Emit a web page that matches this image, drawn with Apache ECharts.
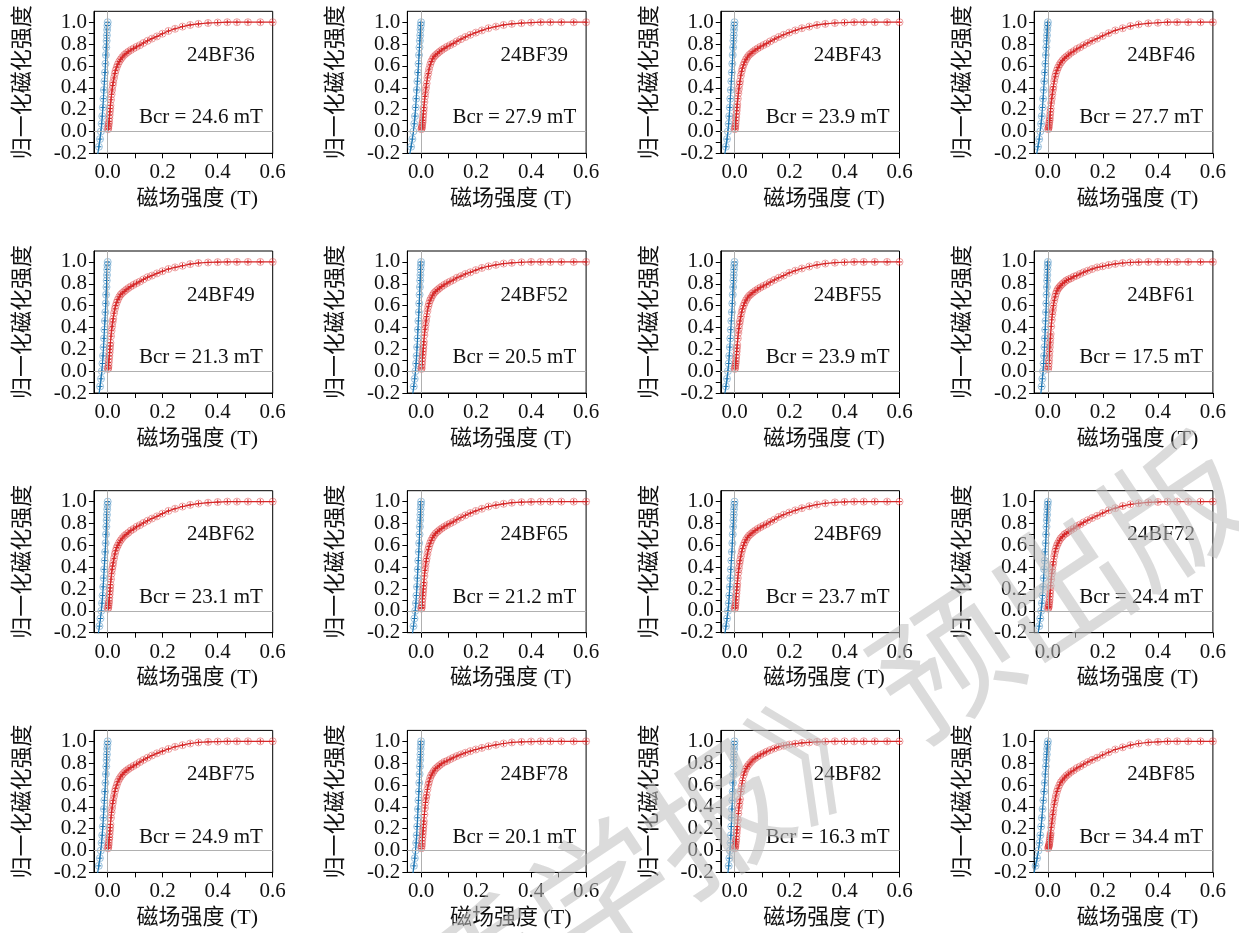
<!DOCTYPE html>
<html><head><meta charset="utf-8">
<script src="https://cdn.jsdelivr.net/npm/echarts@6/dist/echarts.min.js"></script>
<style>html,body{margin:0;padding:0;background:#fff}#c{width:1239px;height:933px}</style>
</head><body><div id="c"></div><script>
// ---------- DATA ----------
const samples = ['24BF36','24BF39','24BF43','24BF46','24BF49','24BF52','24BF55','24BF61',
                 '24BF62','24BF65','24BF69','24BF72','24BF75','24BF78','24BF82','24BF85'];
const bcrValues = [24.6, 27.9, 23.9, 27.7, 21.3, 20.5, 23.9, 17.5, 23.1, 21.2, 23.7, 24.4, 24.9, 20.1, 16.3, 34.4];

// IRM acquisition fields (mT)
const irmField = [1,2,3,4,5,6,7,8,9,10,12,14,16,18,20,23,26,29,33,37,42,47,53,60,67,75,84,94,105,117,130,145,161,179,199,221,245,272,300,330,365,400,435,470,510,555,600];

// normalized IRM per sample
const irm24BF36 = [0.02,0.03,0.05,0.07,0.09,0.12,0.15,0.18,0.21,0.24, 0.29,0.34,0.38,0.42,0.45, 0.49,0.53,0.56, 0.59,0.615, 0.64,0.66, 0.68,0.70, 0.715,0.73, 0.745,0.76, 0.775,0.79, 0.81,0.83, 0.85,0.87, 0.895,0.92, 0.94,0.96, 0.975,0.985, 0.993,0.997, 1,1, 1,1, 1];
const irm24BF39 = [0.02,0.03,0.04,0.06,0.08,0.10,0.13,0.16,0.19,0.22, 0.27,0.32,0.36,0.40,0.44, 0.49,0.53,0.57, 0.61,0.64, 0.665,0.685, 0.70,0.715, 0.73,0.745, 0.76,0.775, 0.79,0.805, 0.825,0.845, 0.865,0.885, 0.905,0.925, 0.945,0.96, 0.975,0.985, 0.992,0.997, 1,1, 1,1, 1];
const irm24BF43 = [0.02,0.03,0.05,0.07,0.10,0.13,0.16,0.19,0.22,0.25, 0.30,0.35,0.39,0.43,0.46, 0.51,0.55,0.58, 0.61,0.635, 0.66,0.68, 0.70,0.715, 0.73,0.745, 0.76,0.775, 0.79,0.805, 0.825,0.845, 0.865,0.885, 0.905,0.925, 0.945,0.96, 0.975,0.985, 0.993,0.997, 1,1, 1,1, 1];
const irm24BF46 = [0.02,0.03,0.04,0.06,0.08,0.10,0.12,0.15,0.18,0.21, 0.26,0.30,0.34,0.38,0.41, 0.46,0.50,0.53, 0.56,0.585, 0.61,0.63, 0.65,0.67, 0.685,0.70, 0.72,0.735, 0.755,0.77, 0.79,0.81, 0.83,0.85, 0.875,0.90, 0.925,0.945, 0.965,0.98, 0.99,0.995, 1,1, 1,1, 1];
const irm24BF49 = [0.02,0.03,0.05,0.08,0.11,0.14,0.17,0.20,0.23,0.26, 0.32,0.37,0.41,0.45,0.48, 0.53,0.57,0.60, 0.63,0.655, 0.68,0.70, 0.715,0.73, 0.745,0.76, 0.775,0.79, 0.805,0.82, 0.84,0.86, 0.875,0.895, 0.915,0.935, 0.95,0.965, 0.98,0.99, 0.995,0.998, 1,1, 1,1, 1];
const irm24BF52 = [0.02,0.03,0.06,0.09,0.12,0.15,0.18,0.21,0.24,0.27, 0.33,0.38,0.42,0.46,0.50, 0.55,0.59,0.62, 0.65,0.67, 0.695,0.715, 0.73,0.745, 0.76,0.775, 0.79,0.805, 0.82,0.835, 0.855,0.87, 0.89,0.905, 0.925,0.945, 0.96,0.973, 0.985,0.992, 0.997,1, 1,1, 1,1, 1];
const irm24BF55 = [0.02,0.03,0.05,0.07,0.09,0.12,0.15,0.18,0.21,0.24, 0.30,0.35,0.39,0.43,0.46, 0.50,0.54,0.57, 0.60,0.625, 0.65,0.67, 0.69,0.705, 0.72,0.735, 0.75,0.765, 0.78,0.795, 0.815,0.835, 0.855,0.875, 0.90,0.92, 0.94,0.958, 0.973,0.985, 0.993,0.997, 1,1, 1,1, 1];
const irm24BF61 = [0.02,0.04,0.07,0.10,0.14,0.18,0.22,0.26,0.30,0.34, 0.41,0.47,0.52,0.56,0.60, 0.645,0.68,0.71, 0.735,0.755, 0.77,0.785, 0.80,0.815, 0.83,0.84, 0.85,0.865, 0.875,0.89, 0.905,0.92, 0.935,0.95, 0.96,0.972, 0.982,0.99, 0.995,0.998, 1,1, 1,1, 1,1, 1];
const irm24BF62 = [0.02,0.03,0.05,0.07,0.09,0.12,0.15,0.18,0.21,0.24, 0.29,0.34,0.38,0.41,0.44, 0.48,0.52,0.55, 0.58,0.60, 0.625,0.645, 0.665,0.685, 0.70,0.715, 0.735,0.75, 0.77,0.785, 0.805,0.825, 0.845,0.865, 0.89,0.915, 0.935,0.955, 0.97,0.982, 0.99,0.996, 1,1, 1,1, 1];
const irm24BF65 = [0.02,0.03,0.05,0.08,0.11,0.14,0.17,0.20,0.23,0.26, 0.32,0.37,0.41,0.45,0.48, 0.52,0.56,0.59, 0.62,0.645, 0.67,0.69, 0.71,0.725, 0.74,0.755, 0.77,0.785, 0.80,0.815, 0.835,0.855, 0.875,0.895, 0.915,0.935, 0.955,0.968, 0.98,0.99, 0.995,0.998, 1,1, 1,1, 1];
const irm24BF69 = [0.02,0.03,0.05,0.07,0.10,0.13,0.16,0.19,0.22,0.25, 0.30,0.35,0.39,0.43,0.46, 0.50,0.54,0.57, 0.60,0.625, 0.65,0.67, 0.69,0.705, 0.72,0.735, 0.75,0.765, 0.78,0.795, 0.815,0.835, 0.86,0.88, 0.90,0.92, 0.94,0.958, 0.973,0.985, 0.993,0.997, 1,1, 1,1, 1];
const irm24BF72 = [0.02,0.03,0.04,0.06,0.08,0.10,0.13,0.16,0.19,0.23, 0.29,0.34,0.38,0.42,0.45, 0.50,0.54,0.57, 0.60,0.62, 0.645,0.665, 0.68,0.70, 0.71,0.725, 0.74,0.755, 0.775,0.79, 0.81,0.83, 0.85,0.87, 0.895,0.92, 0.94,0.96, 0.975,0.985, 0.993,0.997, 1,1, 1,1, 1];
const irm24BF75 = [0.02,0.03,0.05,0.07,0.10,0.12,0.15,0.18,0.21,0.24, 0.30,0.35,0.39,0.43,0.46, 0.50,0.54,0.57, 0.60,0.63, 0.655,0.675, 0.695,0.715, 0.73,0.745, 0.76,0.775, 0.79,0.81, 0.83,0.85, 0.87,0.89, 0.91,0.93, 0.95,0.965, 0.98,0.99, 0.995,0.998, 1,1, 1,1, 1];
const irm24BF78 = [0.02,0.04,0.06,0.09,0.12,0.15,0.18,0.21,0.24,0.27, 0.33,0.39,0.44,0.48,0.51, 0.56,0.60,0.63, 0.665,0.69, 0.71,0.73, 0.75,0.765, 0.78,0.795, 0.81,0.82, 0.835,0.85, 0.865,0.88, 0.895,0.91, 0.925,0.94, 0.955,0.968, 0.98,0.99, 0.995,0.998, 1,1, 1,1, 1];
const irm24BF82 = [0.02,0.03,0.04,0.06,0.08,0.10,0.13,0.16,0.19,0.22, 0.28,0.34,0.39,0.43,0.47, 0.54,0.59,0.64, 0.69,0.72, 0.75,0.77, 0.79,0.81, 0.83,0.845, 0.86,0.875, 0.89,0.905, 0.92,0.935, 0.95,0.96, 0.97,0.978, 0.985,0.99, 0.995,0.998, 1,1, 1,1, 1,1, 1];
const irm24BF85 = [0.02,0.03,0.04,0.05,0.06,0.08,0.10,0.12,0.14,0.16, 0.21,0.25,0.29,0.33,0.37, 0.42,0.46,0.50, 0.54,0.57, 0.60,0.625, 0.645,0.665, 0.685,0.70, 0.72,0.735, 0.755,0.77, 0.79,0.81, 0.83,0.85, 0.875,0.90, 0.925,0.945, 0.965,0.98, 0.99,0.995, 1,1, 1,1, 1];

// back-field curve: normalized levels and per-sample back-field magnitude (mT)
const bfLevel = [1.0,0.97,0.93,0.88,0.83,0.77,0.70,0.62,0.54,0.46,0.38,0.30,0.22,0.14,0.07,0.0,-0.07,-0.14,-0.21,-0.28,-0.35];
const bf24BF36 = [0,1.0,2.0,3.0,3.9,5.2,6.6,8.1,9.8,11.8,13.8,15.5,17.5,19.7,21.9,24.6,28.0,32.0,36.4,41.8,48.0];
const bf24BF39 = [0,1.1,2.2,3.3,4.5,5.9,7.5,9.2,11.2,13.4,15.6,17.6,19.8,22.3,24.8,27.9,31.8,36.3,41.3,47.4,54.4];
const bf24BF43 = [0,1.0,1.9,2.9,3.8,5.0,6.5,7.9,9.6,11.5,13.4,15.1,17.0,19.1,21.3,23.9,27.2,31.1,35.4,40.6,46.6];
const bf24BF46 = [0,1.1,2.2,3.3,4.4,5.8,7.5,9.1,11.1,13.3,15.5,17.5,19.7,22.2,24.7,27.7,31.6,36.0,41.0,47.1,54.0];
const bf24BF49 = [0,0.9,1.7,2.6,3.4,4.5,5.8,7.0,8.5,10.2,11.9,13.4,15.1,17.0,19.0,21.3,24.3,27.7,31.5,36.2,41.5];
const bf24BF52 = [0,0.8,1.6,2.5,3.3,4.3,5.5,6.8,8.2,9.8,11.5,12.9,14.6,16.4,18.2,20.5,23.4,26.7,30.3,34.9,40.0];
const bf24BF55 = [0,1.0,1.9,2.9,3.8,5.0,6.4,7.9,9.6,11.5,13.4,15.0,17.0,19.1,21.2,23.9,27.2,31.0,35.4,40.6,46.6];
const bf24BF61 = [0,0.7,1.4,2.1,2.8,3.7,4.7,5.8,7.0,8.4,9.8,11.0,12.4,14.0,15.6,17.5,20.0,22.8,25.9,29.8,34.1];
const bf24BF62 = [0,0.9,1.8,2.8,3.7,4.9,6.2,7.6,9.2,11.1,12.9,14.6,16.4,18.5,20.6,23.1,26.3,30.0,34.2,39.3,45.0];
const bf24BF65 = [0,0.8,1.7,2.5,3.4,4.5,5.7,7.0,8.5,10.2,11.9,13.4,15.1,17.0,18.9,21.2,24.2,27.6,31.4,36.0,41.3];
const bf24BF69 = [0,0.9,1.9,2.8,3.8,5.0,6.4,7.8,9.5,11.4,13.3,14.9,16.8,19.0,21.1,23.7,27.0,30.8,35.1,40.3,46.2];
const bf24BF72 = [0,1.0,2.0,2.9,3.9,5.1,6.6,8.1,9.8,11.7,13.7,15.4,17.3,19.5,21.7,24.4,27.8,31.7,36.1,41.5,47.6];
const bf24BF75 = [0,1.0,2.0,3.0,4.0,5.2,6.7,8.2,10.0,12.0,13.9,15.7,17.7,19.9,22.2,24.9,28.4,32.4,36.9,42.3,48.6];
const bf24BF78 = [0,0.8,1.6,2.4,3.2,4.2,5.4,6.6,8.0,9.6,11.3,12.7,14.3,16.1,17.9,20.1,22.9,26.1,29.7,34.2,39.2];
const bf24BF82 = [0,0.7,1.3,2.0,2.6,3.4,4.4,5.4,6.5,7.8,9.1,10.3,11.6,13.0,14.5,16.3,18.6,21.2,24.1,27.7,31.8];
const bf24BF85 = [0,1.4,2.8,4.1,5.5,7.2,9.3,11.4,13.8,16.5,19.3,21.7,24.4,27.5,30.6,34.4,39.2,44.7,50.9,58.5,67.1];

const xTickValues = [0,0.1,0.2,0.3,0.4,0.5,0.6];
const xLabelValues = [0,0.2,0.4,0.6];
const yTickValues = [-0.2,-0.1,0,0.1,0.2,0.3,0.4,0.5,0.6,0.7,0.8,0.9,1.0];
const yLabelValues = [-0.2,0,0.2,0.4,0.6,0.8,1.0];

const irmSets = [irm24BF36,irm24BF39,irm24BF43,irm24BF46,irm24BF49,irm24BF52,irm24BF55,irm24BF61,
                 irm24BF62,irm24BF65,irm24BF69,irm24BF72,irm24BF75,irm24BF78,irm24BF82,irm24BF85];
const bfSets = [bf24BF36,bf24BF39,bf24BF43,bf24BF46,bf24BF49,bf24BF52,bf24BF55,bf24BF61,
                bf24BF62,bf24BF65,bf24BF69,bf24BF72,bf24BF75,bf24BF78,bf24BF82,bf24BF85];

// ---------- LAYOUT / STYLE ----------
const FONT = "'Liberation Serif','Times New Roman','Noto Sans CJK SC',serif";
const RED = '#d62728', BLUE = '#1f77b4';
const PLUS = 'path://M0,5L10,5M5,0L5,10';
const L0 = 93.95, DX = 313.4, W = 178.75, T0 = 11.3, DY = 239.7, H = 142;

const grids = [], xAxes = [], yAxes = [], series = [], graphics = [];
samples.forEach((name, i) => {
  const c = i % 4, r = Math.floor(i / 4);
  const left = L0 + c * DX, top = T0 + r * DY;
  grids.push({left, top, width: W, height: H, show: true, borderColor: '#000', borderWidth: 1,
              backgroundColor: 'rgba(0,0,0,0)'});
  xAxes.push({
    type: 'value', gridIndex: i, min: -0.05, max: 0.6,
    axisLine: {show: true, onZero: false, lineStyle: {color: '#000', width: 1}},
    axisTick: {show: true, length: 5, customValues: xTickValues, lineStyle: {color: '#000', width: 1}},
    axisLabel: {customValues: xLabelValues, formatter: v => v.toFixed(1), fontSize: 21, fontFamily: FONT, color: '#111', margin: 9},
    splitLine: {show: false},
    name: '磁场强度 (T)', nameLocation: 'middle', nameGap: 35,
    nameTextStyle: {fontSize: 22, fontFamily: FONT, color: '#111', padding: [0, 0, 0, 28]}
  });
  yAxes.push({
    type: 'value', gridIndex: i, min: -0.2, max: 1.1,
    axisLine: {show: true, onZero: false, lineStyle: {color: '#000', width: 1}},
    axisTick: {show: true, length: 5, customValues: yTickValues, lineStyle: {color: '#000', width: 1}},
    axisLabel: {customValues: yLabelValues, formatter: v => v.toFixed(1), fontSize: 21, fontFamily: FONT, color: '#111', margin: 7},
    splitLine: {show: false},
    name: '归一化磁化强度', nameLocation: 'middle', nameGap: 60,
    nameTextStyle: {fontSize: 22, fontFamily: FONT, color: '#111'}
  });
  const irmData = irmField.map((f, k) => [f / 1000, irmSets[i][k]]);
  const bfData = bfSets[i].map((f, k) => [-f / 1000, bfLevel[k]]);
  series.push({
    type: 'scatter', xAxisIndex: i, yAxisIndex: i, data: bfData, symbol: 'circle', symbolSize: 7,
    itemStyle: {color: 'rgba(0,0,0,0)', borderColor: 'rgba(31,119,180,0.55)', borderWidth: 1},
    silent: true, z: 2,
    markLine: {silent: true, symbol: ['none', 'none'], label: {show: false}, animation: false,
               lineStyle: {color: '#b0b0b0', width: 1, type: 'solid'},
               data: [{xAxis: 0}, {yAxis: 0}]}
  });
  series.push({
    type: 'line', xAxisIndex: i, yAxisIndex: i, data: bfData, symbol: PLUS, symbolSize: 5, showAllSymbol: true,
    itemStyle: {color: BLUE, borderColor: BLUE, borderWidth: 1}, lineStyle: {color: BLUE, width: 1.2},
    silent: true, z: 3
  });
  series.push({
    type: 'scatter', xAxisIndex: i, yAxisIndex: i, data: irmData, symbol: 'circle', symbolSize: 7,
    itemStyle: {color: 'rgba(0,0,0,0)', borderColor: 'rgba(214,39,40,0.55)', borderWidth: 1},
    silent: true, z: 2
  });
  series.push({
    type: 'line', xAxisIndex: i, yAxisIndex: i, data: irmData, symbol: PLUS, symbolSize: 5, showAllSymbol: true,
    itemStyle: {color: RED, borderColor: RED, borderWidth: 1}, lineStyle: {color: RED, width: 1.2},
    silent: true, z: 3
  });
  graphics.push({
    type: 'text', x: left + 0.71 * W, y: top + 0.311 * H, z: 10,
    style: {text: name, fontSize: 21, fontFamily: FONT, fill: '#111', align: 'center', verticalAlign: 'middle'}
  });
  graphics.push({
    type: 'text', x: left + 0.945 * W, y: top + 0.751 * H, z: 10,
    style: {text: 'Bcr = ' + bcrValues[i].toFixed(1) + ' mT', fontSize: 21, fontFamily: FONT, fill: '#111',
            align: 'right', verticalAlign: 'middle'}
  });
});

// watermark
graphics.push({
  type: 'text', x: 1232, y: 472, rotation: 33.7 * Math.PI / 180, z: 100, silent: true,
  style: {text: '《地质学报》预出版', fontSize: 138, fontFamily: "'Noto Sans CJK SC',sans-serif", fontWeight: 'normal',
          fill: 'rgba(190,190,190,0.55)', align: 'right', verticalAlign: 'middle'}
});

const chart = echarts.init(document.getElementById('c'), null, {renderer: 'canvas'});
chart.setOption({
  animation: false,
  backgroundColor: '#fff',
  grid: grids, xAxis: xAxes, yAxis: yAxes, series: series, graphic: graphics
});
</script></body></html>
